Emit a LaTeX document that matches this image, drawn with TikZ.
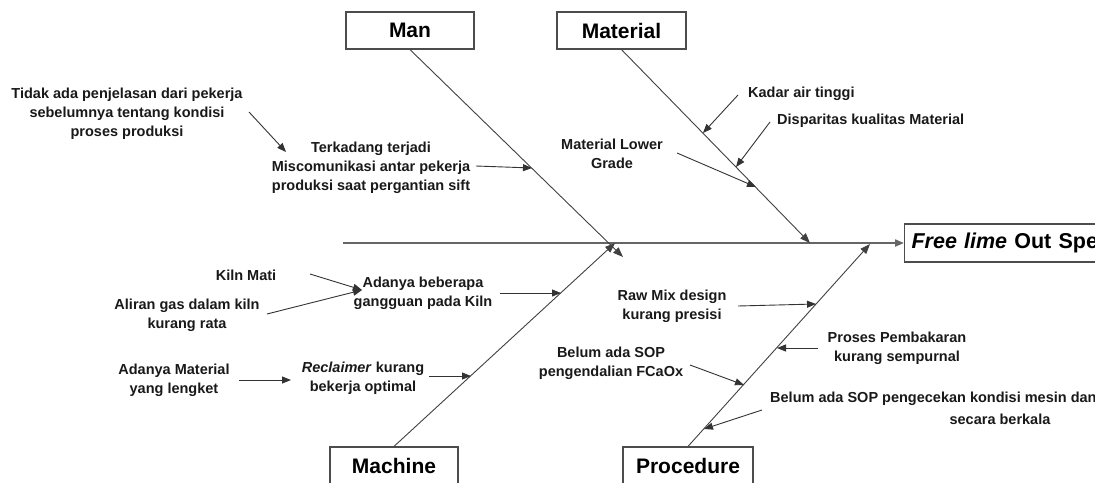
\documentclass[tikz,border=0pt]{standalone}
\usepackage{fontspec}
\setmainfont{Liberation Sans}
\usetikzlibrary{arrows.meta}
\begin{document}
\begin{tikzpicture}[x=1pt,y=-1pt,
  lbl/.style={font=\fontsize{14.5}{19}\selectfont\bfseries, align=center, inner sep=0pt, text=black!90},
  cat/.style={draw=black!70, line width=1.2pt, font=\fontsize{21}{25}\selectfont\bfseries, minimum height=37pt, inner sep=0pt, fill=white},
  bone/.style={draw=black!75, line width=0.9pt, -{Triangle[length=10pt,width=7.5pt]}},
  arr/.style={draw=black!80, line width=0.9pt, -{Triangle[length=9pt,width=7pt]}},
  spine/.style={draw=black!60, line width=2pt, -{Triangle[length=9pt,width=7pt]}}]
\useasboundingbox (0,0) rectangle (1095,482);
\clip (0,0) rectangle (1095,482);

% category boxes
\node[cat, minimum width=128pt] (man) at (410,30.5) {Man};
\node[cat, minimum width=129pt] (material) at (621.5,30.5) {Material};
\node[cat, minimum width=128pt, minimum height=40pt] (machine) at (394,467) {\raisebox{1.5pt}{Machine}};
\node[cat, minimum width=130pt, minimum height=40pt] (procedure) at (688,467) {\raisebox{1.5pt}{Procedure}};
\node[draw=black!70, line width=1.2pt, anchor=west, minimum height=38pt, inner xsep=7pt, inner ysep=0pt,
      text width=210pt, align=left,
      font=\fontsize{21.5}{25}\selectfont\bfseries] (effect) at (904,243) {\textit{Free lime} Out Spec};

% spine
\coordinate (spinestart) at (343,243);
\draw[spine] (spinestart) -- (effect.west);

% bone ends
\coordinate (manend) at (623,257);
\coordinate (matend) at (810,243);
\coordinate (macend) at (615,243);
\coordinate (proend) at (870,244);
\draw[bone] (man.south) -- (manend);
\draw[bone] (material.south) -- (matend);
\draw[bone] (machine.north) -- (macend);
\draw[bone] (procedure.north) -- (proend);

% labels
\node[lbl] (tidak) at (127,113.5) {Tidak ada penjelasan dari pekerja\\sebelumnya tentang kondisi\\proses produksi};
\node[lbl] (terk) at (371,167.5) {Terkadang terjadi\\Miscomunikasi antar pekerja\\produksi saat pergantian sift};
\node[lbl, anchor=west] (kadar) at (748,94) {Kadar air tinggi};
\node[lbl, anchor=west] (disp) at (777,121) {Disparitas kualitas Material};
\node[lbl] (lower) at (612,153.5) {Material Lower\\Grade};
\node[lbl] (kiln) at (246,275) {Kiln Mati};
\node[lbl] (aliran) at (187,315) {Aliran gas dalam kiln\\kurang rata};
\node[lbl] (adanya) at (423,293.5) {Adanya beberapa\\gangguan pada Kiln};
\node[lbl] (admat) at (174,380.5) {Adanya Material\\yang lengket};
\node[lbl] (recl) at (363,378.5) {\textit{Reclaimer} kurang\\bekerja optimal};
\node[lbl] (raw) at (672,306.5) {Raw Mix design\\kurang presisi};
\node[lbl] (proses) at (897,348.5) {Proses Pembakaran\\kurang sempurnal};
\node[lbl] (pengend) at (611,363.5) {Belum ada SOP\\pengendalian FCaOx};
\node[lbl, anchor=west] (pengecek) at (770,399) {Belum ada SOP pengecekan kondisi mesin dan};
\node[lbl] (secara) at (1000,419) {secara berkala};

% sub-arrow coordinates
\coordinate (a1s) at (249,112);  \coordinate (a1e) at (286,152);
\coordinate (a2s) at (476,166);  \coordinate (a2e) at (532,168);
\coordinate (a3s) at (738,95);   \coordinate (a3e) at (703,133);
\coordinate (a4s) at (770,122);  \coordinate (a4e) at (736,167);
\coordinate (a5s) at (677,153);  \coordinate (a5e) at (756,187);
\coordinate (a6s) at (310,274);  \coordinate (a6e) at (362,290);
\coordinate (a7s) at (267,314);
\coordinate (a8s) at (500,293);  \coordinate (a8e) at (561,293);
\coordinate (a9s) at (239,380);  \coordinate (a9e) at (291,380);
\coordinate (a10s) at (429,376); \coordinate (a10e) at (471,376);
\coordinate (a11s) at (738,306); \coordinate (a11e) at (816,304);
\coordinate (a12s) at (818,348); \coordinate (a12e) at (777,348);
\coordinate (a13s) at (690,365); \coordinate (a13e) at (744,385);
\coordinate (a14s) at (762,410); \coordinate (a14e) at (704,429);

\draw[arr] (a1s) -- (a1e);
\draw[arr] (a2s) -- (a2e);
\draw[arr] (a3s) -- (a3e);
\draw[arr] (a4s) -- (a4e);
\draw[arr] (a5s) -- (a5e);
\draw[arr] (a6s) -- (a6e);
\draw[arr] (a7s) -- (a6e);
\draw[arr] (a8s) -- (a8e);
\draw[arr] (a9s) -- (a9e);
\draw[arr] (a10s) -- (a10e);
\draw[arr] (a11s) -- (a11e);
\draw[arr] (a12s) -- (a12e);
\draw[arr] (a13s) -- (a13e);
\draw[arr] (a14s) -- (a14e);
\end{tikzpicture}
\end{document}
